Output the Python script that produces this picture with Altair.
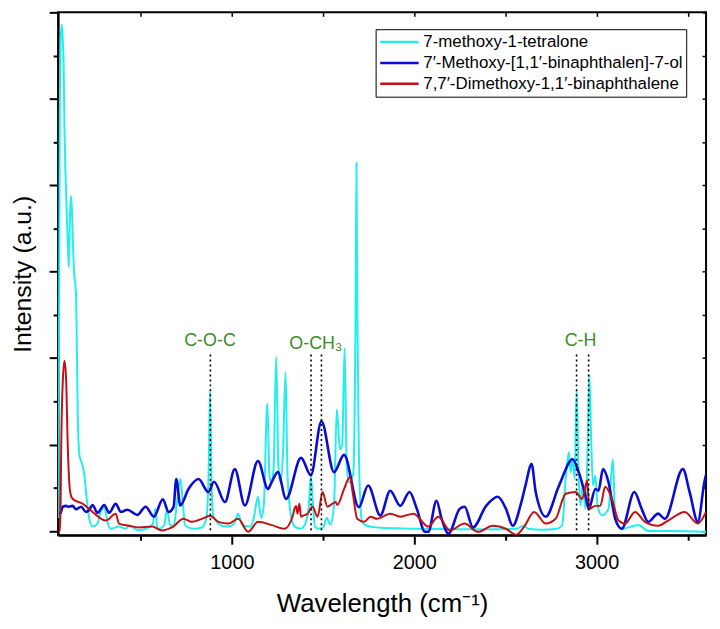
import altair as alt
import pandas as pd

# spectra (wavenumber in cm-1, intensity in a.u.)
series_names = [
    "7-methoxy-1-tetralone",
    "7′-Methoxy-[1,1′-binaphthalen]-7-ol",
    "7,7′-Dimethoxy-1,1′-binaphthalene",
]
series_colors = ["#22eeee", "#0b0bd6", "#c41010"]
series_widths = [2, 2.6, 2]

tetralone_wn = [48, 52, 56, 60, 67, 72, 77, 82, 88, 95, 100, 106, 112, 119, 125, 133, 146, 155,
                164, 173, 182, 191, 200, 218, 236, 263, 280, 291, 300, 309, 318, 336, 380, 418,
                436, 490, 527, 565, 581, 590, 600, 630, 644, 660, 680, 700, 717, 730, 744, 790,
                835, 860, 873, 880, 888, 898, 925, 962, 996, 1016, 1034, 1055, 1070, 1100, 1120,
                1143, 1160, 1175, 1194, 1206, 1215, 1228, 1243, 1255, 1267, 1280, 1294, 1305,
                1324, 1345, 1378, 1400, 1420, 1433, 1445, 1455, 1475, 1500, 1520, 1540, 1560,
                1575, 1593, 1605, 1618, 1630, 1642, 1665, 1678, 1683, 1688, 1696, 1705, 1714,
                1741, 1800, 1900, 2000, 2100, 2200, 2300, 2400, 2560, 2600, 2625, 2700, 2780,
                2811, 2830, 2848, 2857, 2869, 2880, 2890, 2902, 2911, 2924, 2939, 2951, 2960,
                2971, 2980, 2993, 3005, 3029, 3065, 3089, 3102, 3138, 3228, 3283, 3400, 3600]
tetralone_int = [0.3, 5.0, 9.6, 11.3, 11.72, 11.4, 10.86, 9.3, 8.2, 7.26, 6.65, 6.1, 7.3, 7.75,
                 7.1, 6.1, 5.4, 2.6, 1.75, 1.62, 1.5, 1.3, 0.9, 0.28, 0.10, 0.17, 0.45, 0.51, 0.58,
                 0.4, 0.2, 0.05, 0.10, 0.05, 0.12, 0.01, 0.05, 0.15, 0.51, 0.10, 0.05, 0.15, 0.51,
                 0.15, 0.10, 0.70, 1.20, 0.70, 0.12, 0.05, 0.08, 0.30, 1.50, 3.23, 1.20, 0.35,
                 0.17, 0.10, 0.12, 0.20, 0.40, 0.15, 0.12, 0.10, 0.30, 0.79, 0.30, 0.60, 2.95,
                 1.30, 1.13, 1.40, 4.03, 1.50, 1.13, 1.80, 3.67, 1.30, 0.35, 0.10, 0.05, 0.15,
                 0.50, 1.27, 0.60, 0.10, 0.05, 0.08, 0.30, 0.15, 0.60, 2.81, 1.89, 2.00, 4.24,
                 1.50, 1.13, 1.30, 5.00, 8.52, 5.00, 1.90, 0.60, 0.21, 0.12, 0.08, 0.06, 0.05,
                 0.05, 0.04, 0.04, 0.04, 0.05, 0.12, 0.05, 0.03, 0.05, 0.13, 1.20, 1.82, 1.36,
                 1.66, 1.20, 3.27, 1.20, 0.59, 1.05, 0.51, 1.97, 3.62, 1.97, 1.05, 1.28, 0.59,
                 0.36, 0.51, 1.66, 0.28, 0.05, 0.14, 0.00, 0.00, -0.02]

binaphthol_wn = [55, 59, 73, 91, 105, 127, 145, 173, 200, 218, 236, 263, 300, 327, 363, 391, 427,
                 481, 527, 572, 621, 653, 680, 695, 717, 762, 817, 871, 902, 962, 1016, 1071,
                 1143, 1198, 1215, 1252, 1297, 1379, 1433, 1491, 1560, 1615, 1696, 1747, 1814,
                 1868, 1923, 1974, 2014, 2059, 2077, 2122, 2150, 2188, 2249, 2276, 2322, 2394,
                 2458, 2503, 2540, 2585, 2612, 2643, 2666, 2721, 2793, 2869, 2902, 2939, 2957,
                 2993, 3010, 3035, 3065, 3102, 3138, 3207, 3247, 3283, 3337, 3374, 3473, 3510,
                 3555, 3591, 3600]
binaphthol_int = [0.38, 0.40, 0.56, 0.58, 0.56, 0.58, 0.50, 0.56, 0.44, 0.49, 0.60, 0.42, 0.60,
                  0.42, 0.63, 0.44, 0.49, 0.37, 0.56, 0.33, 0.73, 0.44, 0.55, 1.20, 0.59, 0.97,
                  1.20, 0.90, 1.14, 0.67, 1.43, 0.59, 1.62, 0.97, 1.10, 1.36, 0.74, 1.69, 1.29,
                  2.54, 1.36, 1.76, 0.55, 1.05, 0.36, 0.93, 0.58, 0.90, 0.51, -0.02, -0.02, 0.70,
                  0.28, -0.06, 0.51, 0.56, 0.08, 0.58, 0.79, 0.51, 0.12, 0.63, 1.09, 1.55, 0.90,
                  0.33, 1.04, 1.66, 1.36, 0.81, 0.51, 0.97, 0.93, 1.43, 1.13, 0.28, 0.05, 0.90,
                  0.51, 0.21, 0.40, 0.28, 1.43, 0.90, 0.21, 1.13, 1.30]

dimethoxy_wn = [55, 60, 64, 73, 82, 91, 100, 113, 127, 182, 236, 309, 363, 381, 436, 490, 563,
                617, 671, 735, 780, 835, 880, 926, 980, 1034, 1089, 1143, 1216, 1288, 1334, 1343,
                1352, 1360, 1370, 1379, 1388, 1415, 1442, 1470, 1497, 1524, 1569, 1578, 1615,
                1647, 1665, 1687, 1724, 1760, 1796, 1868, 1923, 1996, 2077, 2132, 2195, 2276,
                2349, 2431, 2503, 2558, 2603, 2657, 2721, 2775, 2830, 2884, 2921, 2948, 2960,
                2993, 3020, 3047, 3084, 3120, 3156, 3211, 3265, 3337, 3392, 3483, 3555, 3600]
dimethoxy_int = [0.0, 0.44, 1.96, 3.50, 3.94, 3.50, 1.96, 0.90, 0.74, 0.63, 0.44, 0.24, 0.40,
                 0.17, 0.12, 0.08, 0.10, 0.01, 0.08, 0.28, 0.21, 0.28, 0.35, 0.21, 0.17, 0.28,
                 -0.02, 0.21, 0.14, 0.05, 0.35, 0.51, 0.58, 0.40, 0.63, 0.33, 0.35, 0.40, 0.56,
                 0.33, 0.90, 0.56, 0.67, 0.60, 0.97, 1.25, 0.81, 0.28, 0.21, 0.33, 0.28, 0.40,
                 0.33, 0.40, 0.10, 0.33, 0.01, 0.17, -0.02, 0.12, 0.05, -0.09, 0.10, 0.44, 0.17,
                 0.28, 0.86, 0.90, 0.74, 1.16, 0.51, 0.58, 0.58, 1.02, 0.74, 0.24, 0.17, 0.44,
                 0.21, 0.12, 0.24, 0.44, 0.17, 0.44]

# band assignments
band_labels = ["C-O-C", "O-CH₃", "C-H"]
band_label_pos = [880, 1460, 2912]
band_label_y = [4.27, 4.22, 4.27]
band_lines = [882, 1434, 1491, 2890, 2956]
band_line_top = 4.08

x_major = [1000, 2000, 3000]
x_minor = [500, 1500, 2500, 3500]
y_major = [0, 2, 4, 6, 8, 10, 12]
y_minor = [1, 3, 5, 7, 9, 11]

FONT = "Liberation Sans"

rows = []
for name, wn, inten in zip(series_names,
                           [tetralone_wn, binaphthol_wn, dimethoxy_wn],
                           [tetralone_int, binaphthol_int, dimethoxy_int]):
    rows += [{"series": name, "wn": a, "I": b} for a, b in zip(wn, inten)]
spectra = pd.DataFrame(rows)

labels_df = pd.DataFrame({"label": band_labels, "wn": band_label_pos, "y": band_label_y})
lines_df = pd.DataFrame({"wn": band_lines, "top": band_line_top, "bottom": 0.0})

x_scale = alt.Scale(domain=[47, 3600], nice=False, zero=False)
y_scale = alt.Scale(domain=[-0.1, 12], nice=False, zero=False)

color = alt.Color(
    "series:N",
    scale=alt.Scale(domain=series_names, range=series_colors),
    legend=alt.Legend(
        title=None, orient="none", legendX=320, legendY=17,
        fillColor="white", strokeColor="black", padding=3,
        symbolType="stroke", symbolSize=1500, symbolStrokeWidth=2.5,
        labelFontSize=17, labelFont=FONT, labelOffset=3, labelLimit=0,
        clipHeight=20, rowPadding=1,
    ),
)

layers = []
for i, name in enumerate(series_names):
    first = i == 0
    xa = alt.Axis(orient="bottom", values=x_major, format="d", tickSize=9, labelFontSize=20,
                  labelPadding=8, title="Wavelength (cm⁻¹)", titleFontSize=26,
                  titlePadding=19, domainWidth=2, tickWidth=2) if first else None
    ya = alt.Axis(orient="left", values=y_major, tickSize=9, labels=False,
                  labelPadding=0, title="Intensity (a.u.)", titleFontSize=25,
                  titlePadding=13, domainWidth=2, tickWidth=2) if first else None
    layers.append(
        alt.Chart(spectra).transform_filter(alt.datum.series == name)
        .mark_line(strokeWidth=series_widths[i], interpolate="monotone", clip=True)
        .encode(
            x=alt.X("wn:Q", scale=x_scale, axis=xa),
            y=alt.Y("I:Q", scale=y_scale, axis=ya),
            color=color,
        )
    )

rules = alt.Chart(lines_df).mark_rule(color="black", strokeWidth=1.6, strokeDash=[2, 3]).encode(
    x=alt.X("wn:Q", scale=x_scale,
            axis=alt.Axis(orient="bottom", values=x_minor, tickSize=5, tickWidth=2,
                          labels=False, domain=False, title=None)),
    y=alt.Y("top:Q", scale=y_scale,
            axis=alt.Axis(orient="left", values=y_minor, tickSize=5, tickWidth=2,
                          labels=False, domain=False, title=None)),
    y2="bottom:Q",
)

texts = alt.Chart(labels_df).mark_text(
    font=FONT, fontSize=18, color="#3a8c27", baseline="alphabetic", align="center"
).encode(
    x=alt.X("wn:Q", scale=x_scale,
            axis=alt.Axis(orient="top", values=x_minor + x_major, tickSize=4, tickWidth=1.5,
                          offset=-4, labels=False, domain=False, title=None)),
    y=alt.Y("y:Q", scale=y_scale,
            axis=alt.Axis(orient="right", values=y_minor + y_major, tickSize=4, tickWidth=1.5,
                          offset=-4, labels=False, domain=False, title=None)),
    text="label:N",
)

chart = alt.layer(*layers, rules, texts).resolve_axis(
    x="independent", y="independent"
).properties(
    width=653, height=527,
    autosize=alt.AutoSizeParams(type="none"),
    padding={"left": 50.5, "top": 2, "right": 6, "bottom": 80},
    background="white",
).configure_view(
    stroke="black", strokeWidth=2
).configure_axis(
    grid=False, domainColor="black", tickColor="black", labelColor="black",
    titleColor="black", labelFont=FONT, titleFont=FONT, titleFontWeight="normal",
)

chart.save("out.html", embed_options={"renderer": "svg", "actions": False})
